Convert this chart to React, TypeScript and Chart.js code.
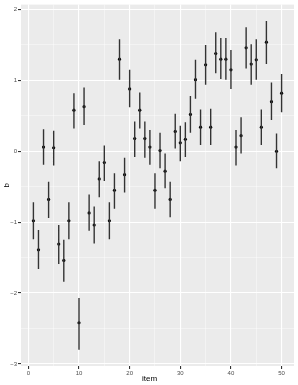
import React, { useEffect, useRef } from "react";
import { Chart, registerables } from "chart.js";

Chart.register(...registerables);

const items = [1, 2, 3, 4, 5, 6, 7, 8, 9, 10, 11, 12, 13, 14, 15, 16, 17, 18, 19, 20, 21, 22, 23, 24, 25, 26, 27, 28, 29, 30, 31, 32, 33, 34, 35, 36, 37, 38, 39, 40, 41, 42, 43, 44, 45, 46, 47, 48, 49, 50];
const bValues = [-0.98, -1.39, 0.06, -0.68, 0.05, -1.31, -1.54, -0.98, 0.58, -2.42, 0.63, -0.87, -1.04, -0.39, -0.16, -0.98, -0.55, 1.30, -0.33, 0.88, 0.18, 0.58, 0.18, 0.06, -0.55, 0.01, -0.28, -0.68, 0.28, 0.12, 0.17, 0.52, 1.01, 0.34, 1.22, 0.34, 1.38, 1.30, 1.30, 1.15, 0.06, 0.22, 1.46, 1.23, 1.29, 0.34, 1.54, 0.70, 0.00, 0.82];
const lowerValues = [-1.24, -1.66, -0.19, -0.94, -0.20, -1.59, -1.84, -1.24, 0.32, -2.80, 0.37, -1.12, -1.30, -0.65, -0.42, -1.24, -0.81, 1.01, -0.58, 0.62, -0.08, 0.32, -0.09, -0.19, -0.81, -0.24, -0.52, -0.93, 0.04, -0.14, -0.08, 0.26, 0.74, 0.09, 0.94, 0.09, 1.10, 1.02, 1.01, 0.88, -0.20, -0.03, 1.17, 0.94, 1.01, 0.09, 1.23, 0.44, -0.24, 0.55];
const upperValues = [-0.72, -1.11, 0.31, -0.43, 0.29, -1.04, -1.25, -0.72, 0.82, -2.07, 0.90, -0.61, -0.78, -0.14, 0.08, -0.72, -0.31, 1.58, -0.09, 1.15, 0.42, 0.83, 0.42, 0.30, -0.31, 0.26, -0.03, -0.43, 0.53, 0.36, 0.41, 0.78, 1.29, 0.59, 1.50, 0.60, 1.68, 1.60, 1.60, 1.43, 0.30, 0.48, 1.75, 1.51, 1.58, 0.59, 1.84, 0.97, 0.25, 1.09];

const xTicks = [0, 5, 10, 15, 20, 25, 30, 35, 40, 45, 50];
const yTicks = [-3, -2.5, -2, -1.5, -1, -0.5, 0, 0.5, 1, 1.5, 2];
const xTitle = "item";
const yTitle = "b";

const FONT = "'Liberation Sans', Arial, sans-serif";

export default function App() {
  const ref = useRef<HTMLCanvasElement | null>(null);

  useEffect(() => {
    if (!ref.current) return;

    const errData: any[] = [];
    items.forEach((it, i) => {
      errData.push({ x: it, y: lowerValues[i] });
      errData.push({ x: it, y: upperValues[i] });
      errData.push({ x: it, y: null });
    });

    const isMajor = (v: number, step: number) => Math.abs(v / step - Math.round(v / step)) < 1e-9;

    const bgPlugin = {
      id: "panelBg",
      beforeDraw(chart: any) {
        const { ctx, chartArea } = chart;
        ctx.save();
        ctx.fillStyle = "#EBEBEB";
        ctx.fillRect(chartArea.left, chartArea.top, chartArea.right - chartArea.left, chartArea.bottom - chartArea.top);
        ctx.restore();
      },
      afterDraw(chart: any) {
        const { ctx, chartArea } = chart;
        ctx.save();
        ctx.fillStyle = "#000000";
        ctx.font = `8px ${FONT}`;
        ctx.textAlign = "center";
        ctx.textBaseline = "middle";
        ctx.fillText(xTitle, (chartArea.left + chartArea.right) / 2 - 8, 379);
        ctx.restore();
      },
    };

    const chart = new Chart(ref.current, {
      type: "scatter",
      data: {
        datasets: [
          {
            data: errData,
            showLine: true,
            spanGaps: false,
            borderColor: "#333333",
            borderWidth: 1.4,
            pointRadius: 0,
            pointHoverRadius: 0,
          } as any,
          {
            data: items.map((it, i) => ({ x: it, y: bValues[i] })),
            backgroundColor: "#000000",
            borderColor: "#000000",
            borderWidth: 0,
            pointRadius: 1.6,
            pointStyle: "circle",
          } as any,
        ],
      },
      plugins: [bgPlugin],
      options: {
        responsive: false,
        animation: false,
        devicePixelRatio: 1,
        layout: { padding: { left: 0, top: 3, right: 3, bottom: 0 } },
        plugins: { legend: { display: false }, tooltip: { enabled: false } },
        scales: {
          x: {
            type: "linear",
            min: -1.45,
            max: 52.45,
            border: { display: false },
            afterBuildTicks: (scale: any) => {
              scale.ticks = xTicks.map((v) => ({ value: v }));
            },
            afterFit: (scale: any) => {
              scale.height = 19;
            },
            grid: {
              color: (c: any) => (isMajor(c.tick?.value ?? 0, 10) ? "#FFFFFF" : "rgba(255,255,255,0.75)"),
              lineWidth: (c: any) => (isMajor(c.tick?.value ?? 0, 10) ? 1.1 : 0.55),
              tickColor: (c: any) => (isMajor(c.tick?.value ?? 0, 10) ? "#333333" : "rgba(0,0,0,0)"),
              tickLength: 3,
              drawTicks: true,
            },
            ticks: {
              autoSkip: false,
              maxRotation: 0,
              padding: 1,
              color: "#4D4D4D",
              font: { family: FONT, size: 6 },
              callback: (v: any) => (isMajor(Number(v), 10) ? String(v) : ""),
            },
          },
          y: {
            type: "linear",
            min: -3.03,
            max: 2.07,
            border: { display: false },
            afterBuildTicks: (scale: any) => {
              scale.ticks = yTicks.map((v) => ({ value: v }));
            },
            afterFit: (scale: any) => {
              scale.width = 21;
            },
            grid: {
              color: (c: any) => (isMajor(c.tick?.value ?? 0, 1) ? "#FFFFFF" : "rgba(255,255,255,0.75)"),
              lineWidth: (c: any) => (isMajor(c.tick?.value ?? 0, 1) ? 1.1 : 0.55),
              tickColor: (c: any) => (isMajor(c.tick?.value ?? 0, 1) ? "#333333" : "rgba(0,0,0,0)"),
              tickLength: 3,
              drawTicks: true,
            },
            title: {
              display: true,
              text: yTitle,
              color: "#000000",
              font: { family: FONT, size: 8 },
              padding: { top: 2, bottom: 0 },
            },
            ticks: {
              autoSkip: false,
              padding: 1,
              color: "#4D4D4D",
              font: { family: FONT, size: 6 },
              callback: (v: any) => (isMajor(Number(v), 1) ? String(v).replace("-", "\u2212") : ""),
            },
          },
        },
      } as any,
    });

    return () => chart.destroy();
  }, []);

  return (
    <div style={{ position: "fixed", left: 0, top: 0, width: 298, height: 385, background: "#FFFFFF" }}>
      <canvas ref={ref} width={298} height={385} style={{ width: 298, height: 385, display: "block" }} />
    </div>
  );
}
